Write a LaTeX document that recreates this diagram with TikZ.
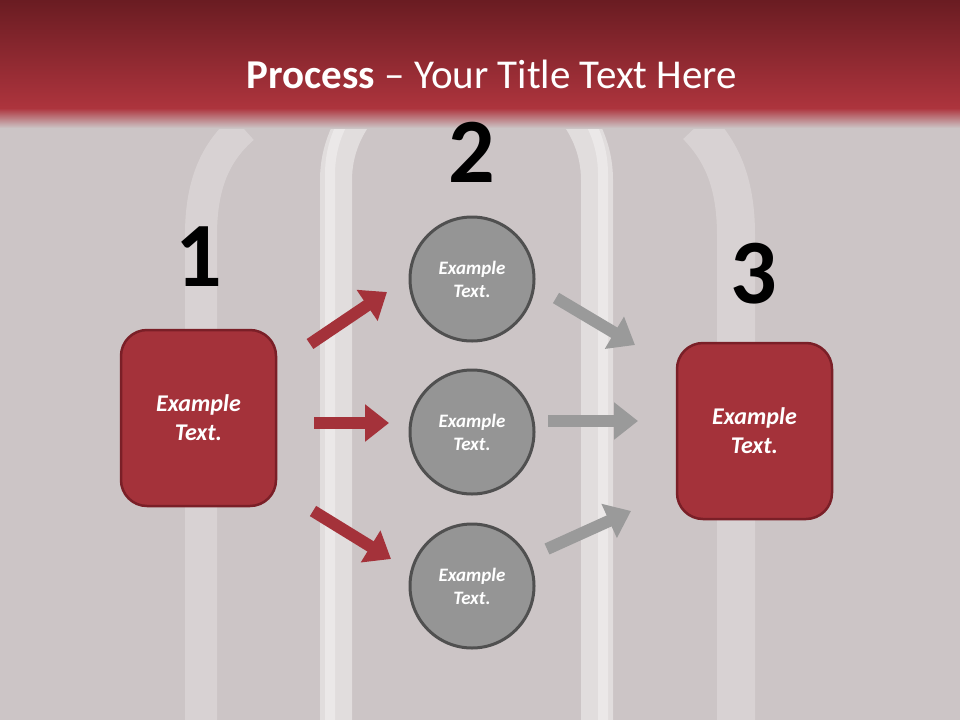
\documentclass[tikz,border=0pt]{standalone}
\usepackage{fontspec}
\setmainfont{Carlito}
\usetikzlibrary{arrows.meta}
\definecolor{bgc}{HTML}{CCC5C6}
\definecolor{hdtop}{HTML}{6A1C22}
\definecolor{hdbot}{HTML}{AD343D}
\definecolor{boxred}{HTML}{A4323A}
\definecolor{boxedge}{HTML}{7A1F27}
\definecolor{circfill}{HTML}{959595}
\definecolor{circedge}{HTML}{505050}
\definecolor{garrow}{HTML}{9A9A9A}
\tikzset{
  redbox/.style={draw=boxedge, line width=2.5pt, fill=boxred, rounded corners=26pt,
    minimum width=155pt, minimum height=176pt, inner sep=0pt, text=white,
    font=\fontsize{24}{29}\selectfont\bfseries\itshape, align=center},
  circ/.style={circle, draw=circedge, line width=3pt, fill=circfill, minimum size=124pt,
    inner sep=0pt, text=white, font=\fontsize{19}{23}\selectfont\bfseries\itshape, align=center},
  bignum/.style={font=\fontsize{92}{92}\selectfont\bfseries, text=black, inner sep=0pt},
  blockarrow/.style={line width=12pt, -{Triangle[length=24pt, width=36pt]}},
  redarrow/.style={blockarrow, draw=boxred},
  grayarrow/.style={blockarrow, draw=garrow},
  arch/.style={draw=white, line cap=butt},
}
\begin{document}
\begin{tikzpicture}[x=1pt,y=-1pt]
\useasboundingbox (0,0) rectangle (960,720);
\fill[bgc] (0,0) rectangle (960,720);
% background arches
\draw[arch, line width=32pt, draw opacity=0.24] (201,720) -- (201,235) .. controls (201,180) and (218,150) .. (243,128);
\draw[arch, line width=38pt, draw opacity=0.24] (736,720) -- (736,235) .. controls (736,180) and (720,150) .. (697,126);
\draw[arch, line width=32pt, draw opacity=0.42, rounded corners=110pt] (336,720) -- (336,70) -- (597,70) -- (597,720);
\draw[arch, line width=10pt, draw opacity=0.35, rounded corners=110pt] (330,720) -- (330,64) -- (603,64) -- (603,720);
% header
\shade[top color=hdtop, bottom color=hdbot] (0,0) rectangle (960,108);
\shade[top color=hdbot, bottom color=bgc] (0,108) rectangle (960,128);
\node[text=white, font=\fontsize{41}{44}\selectfont, anchor=base] (title) at (492,88) {\textbf{Process} – Your Title Text Here};
% numbers
\node[bignum] (n1) at (199,257) {1};
\node[bignum] (n2) at (472,152) {2};
\node[bignum] (n3) at (754,274) {3};
% boxes
\node[redbox] (b1) at (198.5,418) {Example\\Text.};
\node[redbox] (b3) at (754.5,431) {Example\\Text.};
% circles
\node[circ] (c1) at (472,279) {Example\\Text.};
\node[circ] (c2) at (472,432) {Example\\Text.};
\node[circ] (c3) at (472,586) {Example\\Text.};
% arrow endpoints
\coordinate (r1s) at (310,344); \coordinate (r1e) at (387,292);
\coordinate (r2s) at (314,423); \coordinate (r2e) at (389,423);
\coordinate (r3s) at (313,511); \coordinate (r3e) at (391,559);
\coordinate (g1s) at (556,298); \coordinate (g1e) at (635,345);
\coordinate (g2s) at (548,421); \coordinate (g2e) at (638,421);
\coordinate (g3s) at (547,549); \coordinate (g3e) at (631,511);
\draw[redarrow] (r1s) -- (r1e);
\draw[redarrow] (r2s) -- (r2e);
\draw[redarrow] (r3s) -- (r3e);
\draw[grayarrow] (g1s) -- (g1e);
\draw[grayarrow] (g2s) -- (g2e);
\draw[grayarrow] (g3s) -- (g3e);
\end{tikzpicture}
\end{document}
